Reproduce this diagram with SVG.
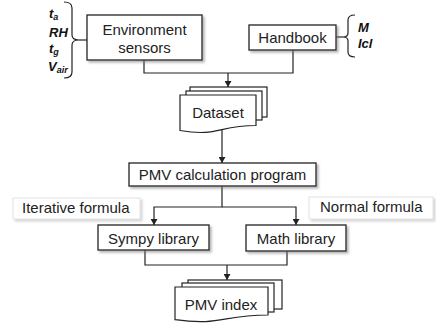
<svg xmlns="http://www.w3.org/2000/svg" width="436" height="325" viewBox="0 0 436 325">
<defs>
<style>
.box{fill:#fff;stroke:#222;stroke-width:1.3}
.doc{fill:#fff;stroke:#222;stroke-width:1.2}
.lbl{fill:#fff;stroke:#e2e2e2;stroke-width:1}
.t{font-family:"Liberation Sans",Arial,sans-serif;font-size:15px;fill:#222}
.v{font-family:"Liberation Sans",Arial,sans-serif;font-size:13px;font-weight:bold;font-style:italic;fill:#111}
.sub{font-size:9px}
.ln{fill:none;stroke:#222;stroke-width:1.2}
</style>
<filter id="sh" x="-10%" y="-10%" width="130%" height="140%">
<feDropShadow dx="2" dy="2" stdDeviation="1" flood-color="#777" flood-opacity="0.55"/>
</filter>
<filter id="sh2" x="-10%" y="-20%" width="130%" height="160%">
<feDropShadow dx="2" dy="2" stdDeviation="1.2" flood-color="#999" flood-opacity="0.4"/>
</filter>
<marker id="ar" markerWidth="6" markerHeight="7" refX="6" refY="3.5" orient="auto" markerUnits="userSpaceOnUse">
<path d="M0,0 L6,3.5 L0,7 Z" fill="#222"/>
</marker>
</defs>
<rect width="436" height="325" fill="#fff"/>

<g id="connectors">
<path class="ln" d="M144,60 V73 H293 V50"/>
<path class="ln" d="M228,73 V87" marker-end="url(#ar)"/>
<path class="ln" d="M222,129.5 V163" marker-end="url(#ar)"/>
<path class="ln" d="M222,186 V207 H154 V225" marker-end="url(#ar)"/>
<path class="ln" d="M222,207 H296 V225" marker-end="url(#ar)"/>
<path class="ln" d="M145,250 V265 H287 V251"/>
<path class="ln" d="M227,265 V280" marker-end="url(#ar)"/>
<path class="ln" d="M79,40 H87"/>
<path class="ln" d="M336,37 H343"/>
</g>

<g id="env-vars">
<path class="ln" d="M64,2 Q72,2 72,8 V35 Q72,40 79,40 Q72,40 72,45 V72 Q72,78 64,78"/>
<text class="v" x="49" y="18">t<tspan class="sub" dy="2">a</tspan></text>
<text class="v" x="49" y="37">RH</text>
<text class="v" x="49" y="53">t<tspan class="sub" dy="2">g</tspan></text>
<text class="v" x="48" y="71">V<tspan class="sub" dy="2">air</tspan></text>
</g>

<g id="env-sensors">
<rect class="box" x="87" y="15" width="115" height="45" filter="url(#sh)"/>
<text class="t" x="144.5" y="35" text-anchor="middle">Environment</text>
<text class="t" x="144.5" y="53" text-anchor="middle">sensors</text>
</g>

<g id="handbook">
<rect class="box" x="249" y="25" width="87" height="25" filter="url(#sh)"/>
<text class="t" x="292.5" y="43" text-anchor="middle">Handbook</text>
</g>

<g id="handbook-vars">
<path class="ln" d="M355,15 Q348,15 348,20 V33 Q348,37 343,37 Q348,37 348,41 V52 Q348,57 355,57"/>
<text class="v" x="358" y="32">M</text>
<text class="v" x="358" y="48">Icl</text>
</g>

<g id="dataset">
<rect class="doc" x="190" y="87" width="77" height="30"/>
<rect class="doc" x="186" y="91" width="76" height="29"/>
<path class="doc" d="M180,95 H256 V125.5 C218,125.5 218,137 180,130.5 Z"/>
<text class="t" x="218" y="118" text-anchor="middle">Dataset</text>
</g>

<g id="pmv-calc">
<rect class="box" x="129" y="163" width="187" height="23" filter="url(#sh)"/>
<text class="t" x="222.5" y="180" text-anchor="middle">PMV calculation program</text>
</g>

<g id="iterative-label">
<rect class="lbl" x="13" y="198" width="127" height="21" filter="url(#sh2)"/>
<text class="t" x="22" y="213">Iterative formula</text>
</g>

<g id="normal-label">
<rect class="lbl" x="309" y="197" width="124" height="22" filter="url(#sh2)"/>
<text class="t" x="320" y="212">Normal formula</text>
</g>

<g id="sympy">
<rect class="box" x="98" y="225" width="111" height="25" filter="url(#sh)"/>
<text class="t" x="153.5" y="244" text-anchor="middle">Sympy library</text>
</g>

<g id="math">
<rect class="box" x="246" y="225" width="100" height="26" filter="url(#sh)"/>
<text class="t" x="296" y="244" text-anchor="middle">Math library</text>
</g>

<g id="pmv-index">
<rect class="doc" x="188" y="280" width="94" height="29"/>
<rect class="doc" x="182" y="283" width="92" height="29"/>
<path class="doc" d="M175,287 H268 V315 C221.5,315 221.5,326 175,319.7 Z"/>
<text class="t" x="221" y="310" text-anchor="middle">PMV index</text>
</g>
</svg>
